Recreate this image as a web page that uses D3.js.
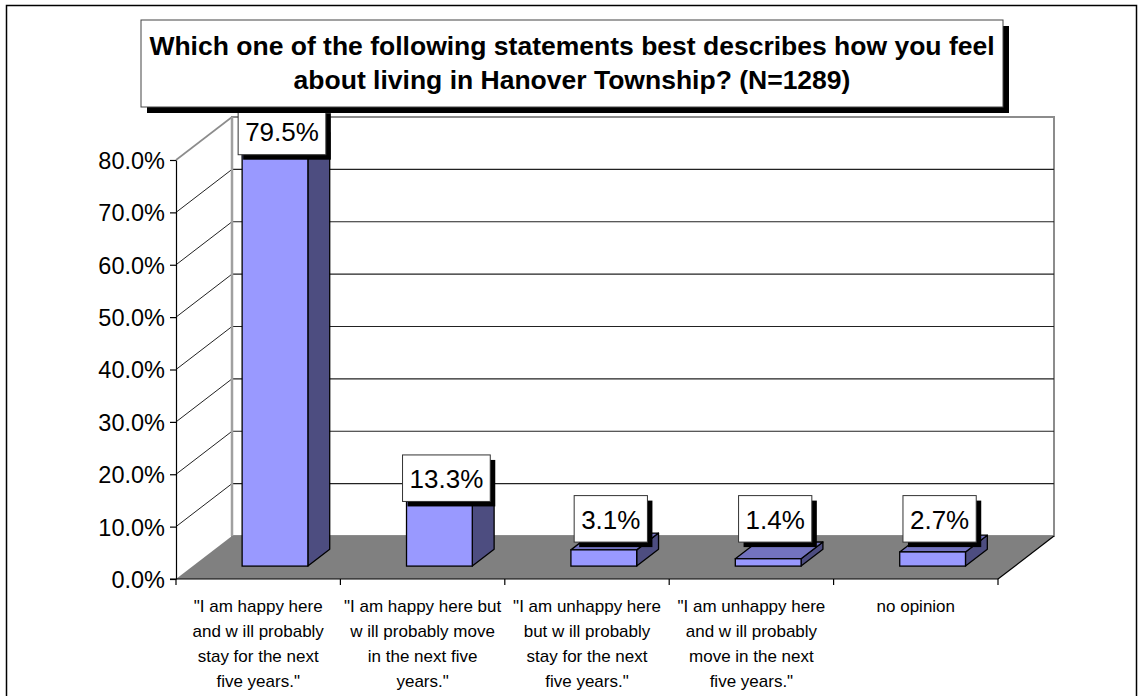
<!DOCTYPE html>
<html>
<head>
<meta charset="utf-8">
<script src="https://cdn.jsdelivr.net/npm/d3@7"></script>
<style>
  body { margin: 0; background: #fff; }
  svg { display: block; font-family: "Liberation Sans", Arial, sans-serif; }
</style>
</head>
<body>
<svg id="chart" width="1139" height="696"></svg>
<script>
// Survey answers (category labels split into lines as they are drawn)
const categoryLines = [
  ["\"I am happy here", "and w ill probably", "stay for the next", "five years.\""],
  ["\"I am happy here but", "w ill probably move", "in the next five", "years.\""],
  ["\"I am unhappy here", "but w ill probably", "stay for the next", "five years.\""],
  ["\"I am unhappy here", "and w ill probably", "move in the next", "five years.\""],
  ["no opinion"]
];
const values = [79.5, 13.3, 3.1, 1.4, 2.7];
const yTicks = [0, 10, 20, 30, 40, 50, 60, 70, 80];
const titleLines = [
  "Which one of the following statements best describes how you feel",
  "about living in Hanover Township? (N=1289)"
];

const svg = d3.select("#chart");

// plot geometry (front plane + oblique depth)
const plotLeft = 176, plotRight = 998, plotBottom = 579, plotTop = 160;
const depthX = 56, depthY = -43;
const barFront = 0.3, barDepth = 0.39, barWidthRatio = 0.4;

const x = d3.scaleBand().domain(d3.range(values.length)).range([plotLeft, plotRight]).padding(0);
const y = d3.scaleLinear().domain([0, 80]).range([plotBottom, plotTop]);

// outer chart border
svg.append("rect")
  .attr("x", 6.5).attr("y", 5.5).attr("width", 1130).attr("height", 720)
  .attr("fill", "#fff").attr("stroke", "#000").attr("stroke-width", 1.5);

// side wall
svg.append("path")
  .attr("d", d3.line()([[plotLeft, y(80)], [plotLeft + depthX, y(80) + depthY], [plotLeft + depthX, y(0) + depthY], [plotLeft, y(0)]]))
  .attr("fill", "#fff").attr("stroke", "none");

// back wall
svg.append("rect")
  .attr("x", plotLeft + depthX).attr("y", y(80) + depthY)
  .attr("width", plotRight - plotLeft).attr("height", y(0) - y(80))
  .attr("fill", "#fff").attr("stroke", "#8c8c8c").attr("stroke-width", 2);

// gridlines on back and side walls
const grid = yTicks.filter(d => d > 0);
svg.append("g").selectAll("line").data(grid).join("line")
  .attr("x1", plotLeft + depthX).attr("x2", plotRight + depthX)
  .attr("y1", d => y(d) + depthY).attr("y2", d => y(d) + depthY)
  .attr("stroke", d => d === 80 ? "#8c8c8c" : "#222").attr("stroke-width", d => d === 80 ? 2 : 1.2);
svg.append("g").selectAll("line").data(grid).join("line")
  .attr("x1", plotLeft).attr("x2", plotLeft + depthX)
  .attr("y1", d => y(d)).attr("y2", d => y(d) + depthY)
  .attr("stroke", d => d === 80 ? "#8c8c8c" : "#222").attr("stroke-width", d => d === 80 ? 1.6 : 1);
svg.append("line")
  .attr("x1", plotLeft + depthX).attr("x2", plotLeft + depthX)
  .attr("y1", y(80) + depthY).attr("y2", y(0) + depthY)
  .attr("stroke", "#a0a0a0").attr("stroke-width", 2.5);

// floor
svg.append("path")
  .attr("d", d3.line()([[plotLeft, y(0)], [plotRight, y(0)], [plotRight + depthX, y(0) + depthY], [plotLeft + depthX, y(0) + depthY]]) + "Z")
  .attr("fill", "#808080");
svg.append("line")
  .attr("x1", plotRight).attr("y1", y(0)).attr("x2", plotRight + depthX).attr("y2", y(0) + depthY)
  .attr("stroke", "#000").attr("stroke-width", 1.2);

// bars
const offX = depthX * barFront, offY = depthY * barFront;
const sdx = depthX * barDepth, sdy = depthY * barDepth;
const bw = x.bandwidth() * barWidthRatio;
const bars = svg.append("g").selectAll("g").data(values).join("g");
bars.each(function (v, i) {
  const g = d3.select(this);
  const cx = x(i) + x.bandwidth() / 2 + offX;
  const x0 = cx - bw / 2, x1 = cx + bw / 2;
  const yb = y(0) + offY, yt = y(v) + offY;
  g.append("path")
    .attr("d", d3.line()([[x1, yb], [x1 + sdx, yb + sdy], [x1 + sdx, yt + sdy], [x1, yt]]) + "Z")
    .attr("fill", "#4d4d80").attr("stroke", "#000").attr("stroke-width", 1.3).attr("stroke-linejoin", "round");
  g.append("path")
    .attr("d", d3.line()([[x0, yt], [x1, yt], [x1 + sdx, yt + sdy], [x0 + sdx, yt + sdy]]) + "Z")
    .attr("fill", "#7373bf").attr("stroke", "#000").attr("stroke-width", 1.3).attr("stroke-linejoin", "round");
  g.append("rect")
    .attr("x", x0).attr("y", yt).attr("width", bw).attr("height", yb - yt)
    .attr("fill", "#9999ff").attr("stroke", "#000").attr("stroke-width", 1.3);
});

// value axis
const yAxis = svg.append("g")
  .attr("transform", `translate(${plotLeft},0)`)
  .call(d3.axisLeft(y).tickValues(yTicks).tickFormat(d => d.toFixed(1) + "%").tickSize(6).tickSizeOuter(0).tickPadding(5));
yAxis.select(".domain").attr("stroke", "#000").attr("stroke-width", 1.2);
yAxis.selectAll(".tick line").attr("stroke", "#000").attr("stroke-width", 1.2);
yAxis.selectAll(".tick text")
  .attr("font-family", "Liberation Sans, Arial, sans-serif")
  .attr("font-size", 23.5).attr("fill", "#000").attr("dy", "0.36em");

// category axis: front edge and boundary ticks
svg.append("line")
  .attr("x1", plotLeft - 6).attr("x2", plotRight).attr("y1", y(0)).attr("y2", y(0))
  .attr("stroke", "#000").attr("stroke-width", 1.2);
const bounds = d3.range(values.length).map(i => x(i)).concat([plotRight]);
svg.append("g").selectAll("line").data(bounds).join("line")
  .attr("x1", d => d).attr("x2", d => d).attr("y1", y(0)).attr("y2", y(0) + 6)
  .attr("stroke", "#000").attr("stroke-width", 1.2);

// category labels
const cat = svg.append("g").selectAll("text").data(categoryLines).join("text")
  .attr("text-anchor", "middle").attr("font-size", 17).attr("fill", "#000");
cat.each(function (lines, i) {
  d3.select(this).selectAll("tspan").data(lines).join("tspan")
    .attr("x", x(i) + x.bandwidth() / 2)
    .attr("y", (d, j) => 612 + j * 25)
    .text(d => d);
});

// data labels in shadowed boxes
const lab = svg.append("g").selectAll("g").data(values).join("g");
lab.each(function (v, i) {
  const g = d3.select(this);
  const cx = x(i) + x.bandwidth() / 2 + offX + 7;
  const yBase = y(0) + offY;
  const yTop = y(v) + offY;
  const boxBottom = Math.min(yTop + 5, yBase - 24);
  const h = 46.5;
  const shadow = g.append("rect");
  const box = g.append("rect");
  const t = g.append("text")
    .attr("x", cx).attr("y", boxBottom - 13.5)
    .attr("text-anchor", "middle").attr("font-size", 26).attr("fill", "#000")
    .text(v.toFixed(1) + "%");
  const w = t.node().getComputedTextLength() + 14;
  shadow.attr("x", cx - w / 2 + 5).attr("y", boxBottom - h + 5).attr("width", w).attr("height", h).attr("fill", "#000");
  box.attr("x", cx - w / 2).attr("y", boxBottom - h).attr("width", w).attr("height", h)
    .attr("fill", "#fff").attr("stroke", "#333").attr("stroke-width", 1);
});

// title box
const tb = { x: 141, y: 20, w: 862, h: 87 };
svg.append("rect").attr("x", tb.x + 6).attr("y", tb.y + 6).attr("width", tb.w).attr("height", tb.h).attr("fill", "#000");
svg.append("rect").attr("x", tb.x).attr("y", tb.y).attr("width", tb.w).attr("height", tb.h)
  .attr("fill", "#fff").attr("stroke", "#444").attr("stroke-width", 1);
svg.append("g").selectAll("text").data(titleLines).join("text")
  .attr("x", tb.x + tb.w / 2).attr("y", (d, i) => 54.5 + i * 34)
  .attr("text-anchor", "middle").attr("font-size", 26.5).attr("font-weight", "bold").attr("fill", "#000")
  .text(d => d);
</script>
</body>
</html>
